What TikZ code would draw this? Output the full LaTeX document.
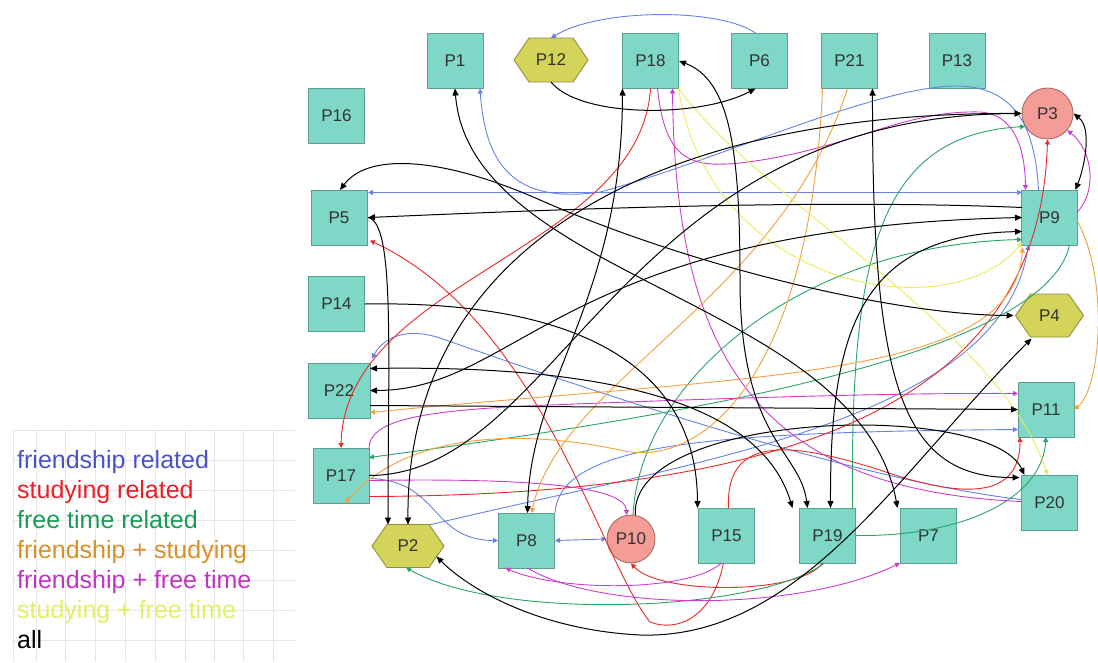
\documentclass[tikz,border=0pt]{standalone}
\usepackage{fontspec}
\setmainfont{Liberation Sans}
\usetikzlibrary{arrows.meta,calc}
\definecolor{boxfill}{HTML}{7ED7C7}
\definecolor{boxdraw}{HTML}{5C9E94}
\definecolor{hexfill}{HTML}{D4D45A}
\definecolor{hexdraw}{HTML}{8E8E3C}
\definecolor{circfill}{HTML}{F49C96}
\definecolor{circdraw}{HTML}{A86A66}
\definecolor{cblue}{HTML}{6482E6}
\definecolor{cred}{HTML}{EB2828}
\definecolor{cgreen}{HTML}{28A564}
\definecolor{corange}{HTML}{F0A03C}
\definecolor{cmag}{HTML}{CD3CCD}
\definecolor{cyel}{HTML}{EBEB5A}
\definecolor{lblue}{HTML}{4B50CD}
\definecolor{lred}{HTML}{EB1E28}
\definecolor{lgreen}{HTML}{199B55}
\definecolor{lorange}{HTML}{D79128}
\definecolor{lmag}{HTML}{C332C3}
\definecolor{lyel}{HTML}{E1F064}
\definecolor{gridc}{HTML}{E6E6E6}
\definecolor{labc}{HTML}{333333}
\newcommand\myhexagon[4]{\filldraw[hexsty] ({#1-#3},#2) -- ({#1-#3+15},{#2-#4}) -- ({#1+#3-15},{#2-#4}) -- ({#1+#3},#2) -- ({#1+#3-15},{#2+#4}) -- ({#1-#3+15},{#2+#4}) -- cycle;}
\begin{document}
\begin{tikzpicture}[x=1pt,y=-1pt,
  lab/.style={font=\fontsize{17}{20}\selectfont, text=labc, inner sep=0pt},
  box/.style={lab, draw=boxdraw, fill=boxfill, line width=0.9pt, minimum width=56pt, minimum height=55pt},
  circ/.style={lab, circle, draw=circdraw, fill=circfill, line width=0.9pt},
  hexlab/.style={lab, minimum width=72pt, minimum height=44pt},
  hexsty/.style={draw=hexdraw, fill=hexfill, line width=0.9pt},
  leg/.style={anchor=base west, font=\fontsize{25}{30}\selectfont, inner sep=0pt},
  ce/.style={line width=0.9pt},
  bk/.style={line width=1pt, black},
  hd/.style={-{Triangle[length=5pt,width=5pt]}},
  hdd/.style={{Triangle[length=5pt,width=5pt]}-{Triangle[length=5pt,width=5pt]}},
  bhd/.style={-{Triangle[length=7pt,width=6pt]}},
  bhdd/.style={{Triangle[length=7pt,width=6pt]}-{Triangle[length=7pt,width=6pt]}},
  fb/.style={ce, cblue}, sr/.style={ce, cred}, fg/.style={ce, cgreen},
  fo/.style={ce, corange}, fm/.style={ce, cmag}, fy/.style={ce, cyel}
]
\useasboundingbox (0,0) rectangle (1098,662);
% legend grid
\foreach \yy in {430,460,490,520,550,580,610,640} \draw[gridc, line width=0.8pt] (13,\yy) -- (295,\yy);
\foreach \xx in {13,36,65,95,125,155,185,214,243,273} \draw[gridc, line width=0.8pt] (\xx,430) -- (\xx,662);
\node[leg, text=lblue] (L1) at (17,468) {friendship related};
\node[leg, text=lred] (L2) at (17,498) {studying related};
\node[leg, text=lgreen] (L3) at (17,528) {free time related};
\node[leg, text=lorange] (L4) at (17,558) {friendship + studying};
\node[leg, text=lmag] (L5) at (17,588) {friendship + free time};
\node[leg, text=lyel] (L6) at (17,618) {studying + free time};
\node[leg, text=black] (L7) at (17,648) {all};
% nodes
\node[box] (P1) at (455,61) {P1};
\myhexagon{551}{60}{37}{22}
\node[hexlab] (P12) at (551,60) {P12};
\node[box] (P18) at (650.5,61) {P18};
\node[box] (P6) at (759.5,61) {P6};
\node[box] (P21) at (849.5,61) {P21};
\node[box] (P13) at (957,61) {P13};
\node[box] (P16) at (336.5,115.5) {P16};
\node[circ, minimum size=51pt] (P3) at (1047.5,113.5) {P3};
\node[box] (P5) at (339,217.5) {P5};
\node[box] (P9) at (1049.5,217.5) {P9};
\node[box] (P14) at (336.5,304) {P14};
\myhexagon{1049.5}{315.5}{34}{21.5}
\node[hexlab, minimum width=68pt, minimum height=43pt] (P4) at (1049.5,315.5) {P4};
\node[box, minimum width=62pt] (P22) at (339,390.5) {P22};
\node[box] (P11) at (1046,409.5) {P11};
\node[box] (P17) at (341,475.5) {P17};
\node[box] (P20) at (1049.5,502.5) {P20};
\myhexagon{408}{546}{36}{21.5}
\node[hexlab, minimum height=43pt] (P2) at (408,546) {P2};
\node[box] (P8) at (526.5,540.5) {P8};
\node[circ, minimum size=48pt] (P10) at (631,539) {P10};
\node[box] (P15) at (726.5,535.5) {P15};
\node[box] (P19) at (827.5,535.5) {P19};
\node[box] (P7) at (928.5,535.5) {P7};
% blue: friendship
\draw[fb,hd] ($(P6)+(-4,-28)$) .. controls (720,8) and (600,8) .. ($(P12)+(0,-22)$);
\draw[fb,hd] ($(P9)+(-11,-27.5)$) .. controls (1035,120) and (1010,88) .. (960,86) .. controls (880,84) and (720,160) .. (600,192) .. controls (510,205) and (485,160) .. ($(P1)+(25,27.5)$);
\draw[fb,hdd] ($(P5)+(29,-25)$) -- ($(P9)+(-27.5,-25)$);
\draw[fb,hd] ($(P20)+(-28.5,-3)$) .. controls (850,480) and (560,380) .. (440,338) .. controls (410,328) and (385,335) .. ($(P22)+(33,-32)$);
\draw[fb,hd] ($(P2)+(21,-21)$) .. controls (700,460) and (1000,420) .. ($(P9)+(-21,27.5)$);
\draw[fb,hd] ($(P8)+(28.5,-27.5)$) .. controls (560,445) and (700,432) .. ($(P11)+(-28,20)$);
\draw[fb,hd] ($(P17)+(28,3)$) .. controls (440,480) and (430,540) .. ($(P8)+(-28.5,0)$);
\draw[fb,hdd] ($(P8)+(28.5,0)$) -- (P10.west);
% red: studying
\draw[sr,hd] ($(P17)+(28,21)$) .. controls (800,495) and (1040,400) .. (P3.south);
\draw[sr,hd] ($(P18)+(0,27.5)$) .. controls (640,250) and (345,280) .. ($(P17)+(0,-27.5)$);
\draw[sr,hd] ($(P15)+(-3,27.5)$) .. controls (712,620) and (675,632) .. (650,622) .. controls (600,560) and (540,320) .. ($(P5)+(31,23)$);
\draw[sr,hd] ($(P19)+(-5,27.5)$) .. controls (800,595) and (660,595) .. (P10.south);
\draw[sr,hd] ($(P15)+(2,-27.5)$) .. controls (725,430) and (800,445) .. (880,470) .. controls (980,505) and (1020,490) .. ($(P11)+(-26,27.5)$);
% green: free time
\draw[fg,hd] ($(P19)+(25,-27.5)$) .. controls (850,250) and (880,135) .. (P3.210);
\draw[fg,hd] ($(P19)+(28.5,0)$) .. controls (960,537) and (1042,500) .. ($(P11)+(0,27.5)$);
\draw[fg,hd] ($(P19)+(-3,27.5)$) .. controls (760,612) and (500,622) .. ($(P2)+(-2,21.5)$);
\draw[fg,hd] ($(P9)+(20,27.5)$) .. controls (1045,360) and (650,420) .. ($(P17)+(28,-18)$);
\draw[fg,hd] ($(P10)+(2,-24)$) .. controls (640,380) and (800,245) .. ($(P9)+(-27.5,22)$);
% magenta: friendship + free time
\draw[fm,hd] ($(P9)+(27.5,-5)$) .. controls (1098,190) and (1092,150) .. (P3.-40);
\draw[fm,hd] ($(P18)+(7,27.5)$) .. controls (665,160) and (690,168) .. (740,163) .. controls (850,150) and (900,110) .. (980,112) .. controls (1015,114) and (1025,150) .. ($(P9)+(-24,-27.5)$);
\draw[fm,hd] ($(P20)+(-28.5,-1)$) .. controls (760,490) and (675,360) .. ($(P18)+(22,27.5)$);
\draw[fm,hd] ($(P17)+(28,-26)$) .. controls (368,420) and (420,410) .. (550,405) .. controls (750,397) and (900,393) .. ($(P11)+(-28,-16)$);
\draw[fm,hd] ($(P17)+(28,5)$) .. controls (520,478) and (625,485) .. (P10.100);
\draw[fm,hd] ($(P15)+(-5,27.5)$) .. controls (690,592) and (560,592) .. ($(P8)+(-21,27.5)$);
\draw[fm,hd] ($(P8)+(1,27.5)$) .. controls (600,612) and (800,612) .. ($(P7)+(-28.5,27.5)$);
% orange: friendship + studying
\draw[fo,hd] ($(P21)+(-27,27.5)$) .. controls (810,380) and (700,470) .. (620,450) .. controls (500,425) and (400,440) .. ($(P17)+(4,27.5)$);
\draw[fo,hd] ($(P21)+(-2,27.5)$) .. controls (780,300) and (560,380) .. ($(P8)+(5,-27.5)$);
\draw[fo,hdd] ($(P22)+(31,22)$) .. controls (750,375) and (1015,380) .. ($(P9)+(-27,30)$);
\draw[fo,hd] ($(P9)+(27.5,3)$) .. controls (1110,280) and (1100,390) .. ($(P11)+(28,0)$);
% yellow: studying + free time
\draw[fy,hd] ($(P18)+(28,27.5)$) .. controls (710,290) and (950,330) .. ($(P9)+(-27.5,25)$);
\draw[fy,hd] ($(P18)+(28,27.5)$) .. controls (760,200) and (1000,330) .. ($(P20)+(-2,-27.5)$);
% black: all
\draw[bk,bhd] ($(P12)+(0,22)$) .. controls (580,118) and (700,118) .. ($(P6)+(-4,27.5)$);
\draw[bk,bhd] ($(P9)+(-27.5,-10)$) .. controls (800,198) and (500,212) .. ($(P5)+(29,0)$);
\draw[bk,bhd] ($(P5)+(29,0)$) .. controls (395,222) and (388,350) .. ($(P2)+(-20,-21.5)$);
\draw[bk,bhdd] (P3.west) .. controls (650,112) and (406,250) .. ($(P2)+(0,-21.5)$);
\draw[bk,bhd] ($(P17)+(28,0)$) .. controls (560,475) and (620,115) .. (P3.west);
\draw[bk,bhdd] ($(P22)+(31,0)$) .. controls (520,390) and (560,228) .. ($(P9)+(-27.5,0)$);
\draw[bk,bhdd] ($(P19)+(3,-27.5)$) .. controls (830,330) and (860,235) .. ($(P9)+(-27.5,14)$);
\draw[bk,bhdd] (P3.east) .. controls (1092,128) and (1085,165) .. ($(P9)+(26,-27.5)$);
\draw[bk,bhdd] ($(P8)+(1,-27.5)$) .. controls (530,380) and (622,300) .. ($(P18)+(-28,27.5)$);
\draw[bk,bhdd] ($(P18)+(28.5,0)$) .. controls (730,80) and (740,150) .. (740,280) .. controls (740,440) and (800,450) .. ($(P19)+(-20,-27.5)$);
\draw[bk,bhdd] ($(P1)+(0,27.5)$) .. controls (470,280) and (860,300) .. ($(P7)+(-31,-27.5)$);
\draw[bk,bhdd] ($(P5)+(1,-27.5)$) .. controls (370,150) and (450,160) .. (540,200) .. controls (700,270) and (900,315) .. ($(P4)+(-36,0)$);
\draw[bk,bhdd] ($(P4)+(-18,23)$) .. controls (900,470) and (800,640) .. (640,635) .. controls (540,630) and (470,590) .. ($(P2)+(28.5,10.5)$);
\draw[bk,bhdd] ($(P21)+(23,27.5)$) .. controls (872,380) and (900,478) .. ($(P20)+(-30,-25)$);
\draw[bk,bhd] (P10.80) .. controls (630,410) and (990,400) .. ($(P20)+(-25,-27.5)$);
\draw[bk,bhdd] ($(P22)+(31,-22)$) .. controls (600,365) and (760,400) .. ($(P19)+(-35,-27.5)$);
\draw[bk,bhd] ($(P14)+(28.5,0)$) .. controls (600,300) and (697,380) .. ($(P15)+(-29,-27.5)$);
\draw[bk,bhd] ($(P22)+(31,15)$) -- ($(P11)+(-28,0)$);
\end{tikzpicture}
\end{document}
